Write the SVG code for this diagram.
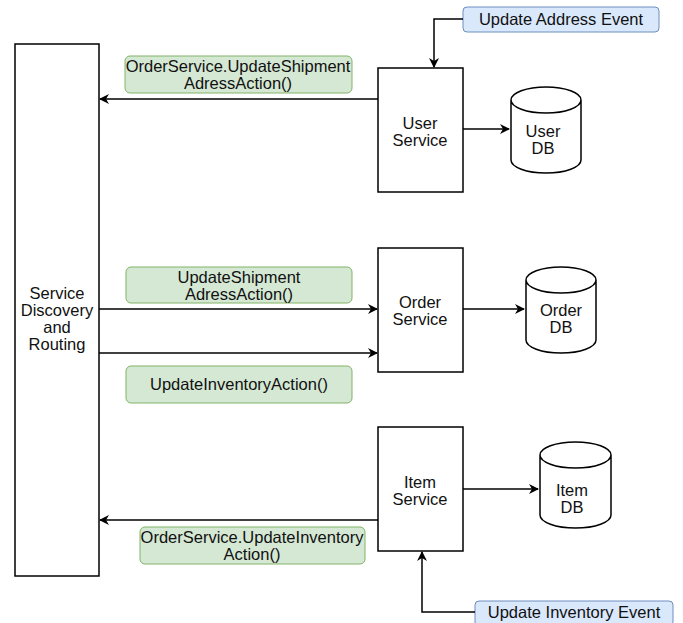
<svg xmlns="http://www.w3.org/2000/svg" width="683" height="623" viewBox="0 0 683 623">
<defs>
<marker id="ah" viewBox="0 0 10 10" refX="9" refY="5" markerWidth="10" markerHeight="10" markerUnits="userSpaceOnUse" orient="auto">
<path d="M0,0 L10,5 L0,10 L3,5 Z" fill="#000"/>
</marker>
</defs>
<style>
.box{fill:#fff;stroke:#000;stroke-width:1.5}
.green{fill:#d5e8d4;stroke:#82b366;stroke-width:1}
.blue{fill:#dae8fc;stroke:#6c8ebf;stroke-width:1}
.db{fill:#fff;stroke:#000;stroke-width:1.5}
text{font-family:"Liberation Sans",Arial,sans-serif;font-size:16.5px;fill:#111;text-anchor:middle}
.edge{fill:none;stroke:#000;stroke-width:1.5;marker-end:url(#ah)}
</style>
<rect width="683" height="623" fill="#fff"/>
<g id="service-discovery">
<rect class="box" x="15" y="44" width="84" height="532"/>
<text x="57" y="299">Service</text>
<text x="57" y="316">Discovery</text>
<text x="57" y="333">and</text>
<text x="57" y="350">Routing</text>
</g>
<g id="user-service">
<rect class="box" x="378" y="68" width="85" height="124"/>
<text x="420" y="129">User</text>
<text x="420" y="146">Service</text>
</g>
<g id="order-service">
<rect class="box" x="378" y="248" width="85" height="124"/>
<text x="420" y="308">Order</text>
<text x="420" y="325">Service</text>
</g>
<g id="item-service">
<rect class="box" x="378" y="427" width="85" height="124"/>
<text x="420" y="488">Item</text>
<text x="420" y="505">Service</text>
</g>
<g id="user-db">
<path class="db" d="M511,100 L511,160 A35,13 0 0 0 581,160 L581,100 A35,13 0 0 0 511,100 A35,13 0 0 0 581,100"/>
<text x="543" y="137">User</text>
<text x="543" y="154">DB</text>
</g>
<g id="order-db">
<path class="db" d="M526,280 L526,340 A35,13 0 0 0 596,340 L596,280 A35,13 0 0 0 526,280 A35,13 0 0 0 596,280"/>
<text x="561" y="316">Order</text>
<text x="561" y="333">DB</text>
</g>
<g id="item-db">
<path class="db" d="M540,455 L540,515 A35.5,13 0 0 0 611,515 L611,455 A35.5,13 0 0 0 540,455 A35.5,13 0 0 0 611,455"/>
<text x="572" y="496">Item</text>
<text x="572" y="513">DB</text>
</g>
<g id="update-address-event">
<rect class="blue" x="463" y="7" width="196" height="25" rx="4"/>
<text x="561" y="25">Update Address Event</text>
</g>
<g id="update-inventory-event">
<rect class="blue" x="475" y="601" width="198" height="25" rx="4"/>
<text x="574" y="618">Update Inventory Event</text>
</g>
<g id="label-user-action">
<rect class="green" x="125" y="56" width="227" height="37" rx="5"/>
<text x="238" y="72">OrderService.UpdateShipment</text>
<text x="238" y="89">AdressAction()</text>
</g>
<g id="label-order-shipment">
<rect class="green" x="126" y="267" width="226" height="36" rx="5"/>
<text x="239" y="283">UpdateShipment</text>
<text x="239" y="300">AdressAction()</text>
</g>
<g id="label-order-inventory">
<rect class="green" x="126" y="366" width="226" height="37" rx="5"/>
<text x="239" y="390">UpdateInventoryAction()</text>
</g>
<g id="label-item-action">
<rect class="green" x="140" y="527" width="225" height="37" rx="5"/>
<text x="252" y="543">OrderService.UpdateInventory</text>
<text x="252" y="560">Action()</text>
</g>
<g id="connectors">
<path class="edge" d="M463,19 L434,19 L434,67"/>
<path class="edge" d="M378,99 L100,99"/>
<path class="edge" d="M463,129 L509,129"/>
<path class="edge" d="M99,309 L377,309"/>
<path class="edge" d="M99,353 L377,353"/>
<path class="edge" d="M463,309 L524,309"/>
<path class="edge" d="M378,520 L100,520"/>
<path class="edge" d="M463,489 L538,489"/>
<path class="edge" d="M475,612 L422,612 L422,552"/>
</g>
</svg>
